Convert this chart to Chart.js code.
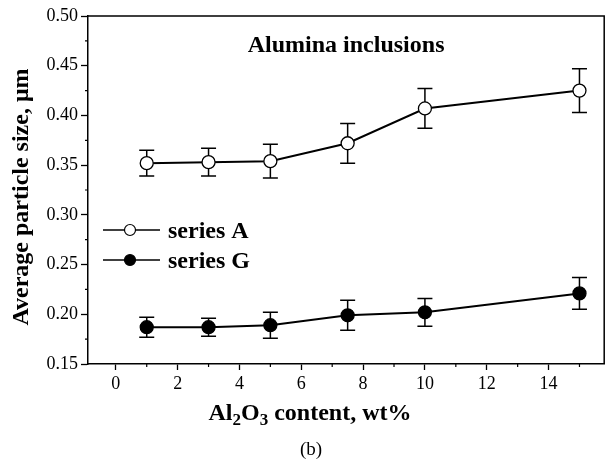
<!DOCTYPE html>
<html>
<head>
<meta charset="utf-8">
<script src="https://cdn.jsdelivr.net/npm/chart.js@4.4.0/dist/chart.umd.min.js"></script>
<style>
    html, body { margin: 0; padding: 0; background: #fff; }
    #wrap { width: 612px; height: 461px; }
</style>
</head>
<body>
<div id="wrap"><canvas id="sizeChart" width="612" height="461"></canvas></div>
<script>
// --- Dados ---
const xVals = [1, 3, 5, 7.5, 10, 15];
const seriesA = [0.352, 0.353, 0.354, 0.372, 0.407, 0.425];
const errA = [0.013, 0.014, 0.017, 0.020, 0.020, 0.022];
const seriesG = [0.187, 0.187, 0.189, 0.199, 0.202, 0.221];
const errG = [0.010, 0.009, 0.013, 0.015, 0.014, 0.016];

const xTicks = [0, 2, 4, 6, 8, 10, 12, 14];
const xMinor = [1, 3, 5, 7, 9, 11, 13, 15];
const yTicks = [0.15, 0.20, 0.25, 0.30, 0.35, 0.40, 0.45, 0.50];
const yMinor = [0.175, 0.225, 0.275, 0.325, 0.375, 0.425, 0.475];

const SERIF = '"Liberation Serif", "Times New Roman", serif';

// --- Plugins ---
const errorBars = {
    id: 'errorBars',
    beforeDatasetsDraw(chart) {
        const { ctx } = chart;
        const xs = chart.scales.x, ys = chart.scales.y;
        ctx.save();
        ctx.strokeStyle = '#000';
        ctx.lineWidth = 1.5;
        chart.data.datasets.forEach(ds => {
            ds.data.forEach((p, i) => {
                const px = xs.getPixelForValue(p.x);
                const top = ys.getPixelForValue(p.y + ds.err[i]);
                const bot = ys.getPixelForValue(p.y - ds.err[i]);
                ctx.beginPath();
                ctx.moveTo(px, top); ctx.lineTo(px, bot);
                ctx.moveTo(px - 7.5, top); ctx.lineTo(px + 7.5, top);
                ctx.moveTo(px - 7.5, bot); ctx.lineTo(px + 7.5, bot);
                ctx.stroke();
            });
        });
        ctx.restore();
    }
};

const decorations = {
    id: 'decorations',
    afterDraw(chart) {
        const { ctx, chartArea: a } = chart;
        const xs = chart.scales.x, ys = chart.scales.y;
        ctx.save();
        ctx.strokeStyle = '#000';
        ctx.fillStyle = '#000';

        // moldura superior e direita
        ctx.lineWidth = 1.5;
        ctx.beginPath();
        ctx.moveTo(a.left, a.top); ctx.lineTo(a.right, a.top); ctx.lineTo(a.right, a.bottom);
        ctx.stroke();

        // ticks menores
        ctx.lineWidth = 1.2;
        ctx.beginPath();
        xMinor.forEach(v => {
            const px = xs.getPixelForValue(v);
            ctx.moveTo(px, a.bottom); ctx.lineTo(px, a.bottom + 3);
        });
        yMinor.forEach(v => {
            const py = ys.getPixelForValue(v);
            ctx.moveTo(a.left, py); ctx.lineTo(a.left - 3, py);
        });
        ctx.stroke();

        // título interno
        ctx.font = 'bold 24px ' + SERIF;
        ctx.textAlign = 'center';
        ctx.textBaseline = 'alphabetic';
        ctx.fillText('Alumina inclusions', (a.left + a.right) / 2, 52);

        // legenda
        const legend = [
            { label: 'series A', fill: '#fff', y: 230 },
            { label: 'series G', fill: '#000', y: 260 }
        ];
        legend.forEach(item => {
            ctx.lineWidth = 1.5;
            ctx.beginPath();
            ctx.moveTo(103, item.y); ctx.lineTo(160, item.y);
            ctx.stroke();
            ctx.beginPath();
            ctx.arc(130, item.y, 5.5, 0, Math.PI * 2);
            ctx.fillStyle = item.fill;
            ctx.fill();
            ctx.lineWidth = 1.2;
            ctx.stroke();
            ctx.fillStyle = '#000';
            ctx.font = 'bold 24px ' + SERIF;
            ctx.textAlign = 'left';
            ctx.fillText(item.label, 168, item.y + 8);
        });

        // título do eixo y
        ctx.save();
        ctx.translate(22, 197);
        ctx.rotate(-Math.PI / 2);
        ctx.textAlign = 'center';
        ctx.textBaseline = 'middle';
        ctx.font = 'bold 24px ' + SERIF;
        ctx.fillText('Average particle size, μm', 0, 0);
        ctx.restore();

        // título do eixo x com subscritos
        const parts = [['Al', false], ['2', true], ['O', false], ['3', true], [' content, wt%', false]];
        const mainFont = 'bold 24px ' + SERIF;
        const subFont = 'bold 17px ' + SERIF;
        let total = 0;
        parts.forEach(([t, sub]) => { ctx.font = sub ? subFont : mainFont; total += ctx.measureText(t).width; });
        let cx = 310 - total / 2;
        ctx.textAlign = 'left';
        ctx.textBaseline = 'alphabetic';
        parts.forEach(([t, sub]) => {
            ctx.font = sub ? subFont : mainFont;
            ctx.fillText(t, cx, sub ? 425 : 420);
            cx += ctx.measureText(t).width;
        });

        // rótulo (b)
        ctx.font = '19px ' + SERIF;
        ctx.textAlign = 'center';
        ctx.fillText('(b)', 311, 455);

        ctx.restore();
    }
};

// --- Gráfico ---
const ctx = document.getElementById('sizeChart').getContext('2d');
const chart = new Chart(ctx, {
    type: 'line',
    data: {
        datasets: [{
            label: 'series A',
            data: xVals.map((x, i) => ({ x: x, y: seriesA[i] })),
            err: errA,
            borderColor: '#000',
            borderWidth: 2,
            pointRadius: 6.5,
            pointBorderWidth: 1.3,
            pointBackgroundColor: '#fff',
            pointBorderColor: '#000',
            tension: 0
        }, {
            label: 'series G',
            data: xVals.map((x, i) => ({ x: x, y: seriesG[i] })),
            err: errG,
            borderColor: '#000',
            borderWidth: 2,
            pointRadius: 6.5,
            pointBorderWidth: 1.3,
            pointBackgroundColor: '#000',
            pointBorderColor: '#000',
            tension: 0
        }]
    },
    options: {
        responsive: false,
        animation: false,
        devicePixelRatio: 1,
        layout: { padding: { top: 16, right: 3, left: 0, bottom: 0 } },
        plugins: {
            legend: { display: false },
            tooltip: { enabled: false }
        },
        scales: {
            x: {
                type: 'linear',
                min: -0.9,
                max: 15.8,
                afterBuildTicks: scale => { scale.ticks = xTicks.map(v => ({ value: v })); },
                afterFit: scale => { scale.height = 97; },
                ticks: {
                    color: '#000',
                    font: { family: SERIF, size: 18 },
                    padding: 3,
                    maxRotation: 0,
                    callback: v => String(v)
                },
                grid: { drawOnChartArea: false, drawTicks: true, tickLength: 6, tickColor: '#000', tickWidth: 1.3 },
                border: { display: true, color: '#000', width: 1.5 }
            },
            y: {
                type: 'linear',
                min: 0.15,
                max: 0.50,
                afterBuildTicks: scale => { scale.ticks = yTicks.map(v => ({ value: v })); },
                afterFit: scale => { scale.width = 88; },
                ticks: {
                    color: '#000',
                    font: { family: SERIF, size: 18 },
                    padding: 3,
                    callback: v => Number(v).toFixed(2)
                },
                grid: { drawOnChartArea: false, drawTicks: true, tickLength: 7, tickColor: '#000', tickWidth: 1.3 },
                border: { display: true, color: '#000', width: 1.5 }
            }
        }
    },
    plugins: [errorBars, decorations]
});
</script>
</body>
</html>
